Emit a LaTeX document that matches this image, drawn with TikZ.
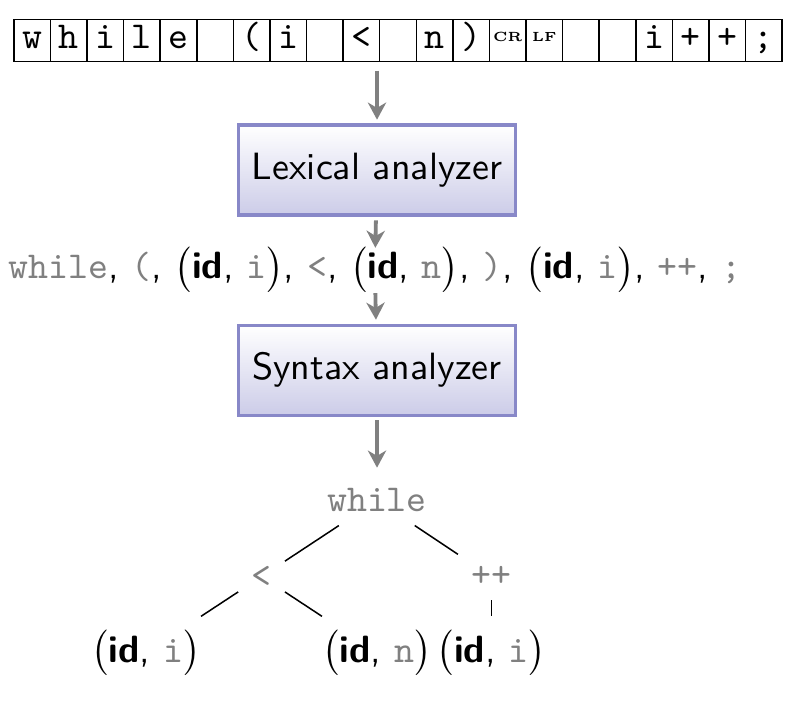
\documentclass[tikz,border=0pt]{standalone}
\usepackage{fontspec}
\usetikzlibrary{arrows.meta}

\definecolor{phaseline}{RGB}{136,136,200}
\definecolor{phasefill}{RGB}{204,204,232}
\newcommand\code[1]{\textcolor{black!50}{\texttt{#1}}}
\newcommand\tok[1]{$\bigl($\textbf{id}, \code{#1}$\bigr)$}
\newcommand\ctl[1]{\raisebox{1.8pt}{\fontsize{3.5}{4}\selectfont\rmfamily\bfseries #1}}

\begin{document}
\begin{tikzpicture}[
  >={Stealth[length=4.5pt,width=4.8pt,inset=1.4pt]},
  font=\sffamily,
  cell/.style={draw,minimum width=0.3383cm,minimum height=0.3885cm,inner sep=0pt,text height=6pt,text depth=2pt,font=\ttfamily},
  phase/.style={draw=phaseline,line width=0.8pt,top color=white,bottom color=phasefill,minimum width=2.567cm,minimum height=0.8325cm},
  flow/.style={->,draw=black!50,line width=1pt,shorten <=1pt,shorten >=1pt},
]
  \useasboundingbox (-3.487,1.5725) rectangle (3.829,-4.912);
  % input characters
  \foreach \ch [count=\k] in {w,h,i,l,e,{},{(},i,{},<,{},n,{)},\ctl{CR},\ctl{LF},{},{},i,+,+,;}
    \node[cell] (c\k) at ({-3.358+(\k-0.5)*0.3383},1.198) {\ch};

  \node[phase] (lex) at (0,0) {Lexical analyzer};
  \node[inner ysep=0pt] (tokens) at (-0.02,-0.92) {\code{while}, \code{(}, \tok{i}, \code{<}, \tok{n}, \code{)}, \tok{i}, \code{++}, \code{;}};
  \node[phase] (syn) at (0,-1.85) {Syntax analyzer};

  % syntax tree
  \node (root) at (0,-3.056) {\code{while}};
  \node (lt) at (-1.068,-3.76) {\code{<}};
  \node (inc) at (1.057,-3.76) {\code{++}};
  \node (lhs) at (-2.137,-4.463) {\tok{i}};
  \node (rhs) at (0,-4.463) {\tok{n}};
  \node (arg) at (1.057,-4.463) {\tok{i}};

  \draw[flow,shorten <=2.2pt] (c10.south -| lex.north) -- (lex);
  \draw[flow,shorten >=-0.5pt] (lex) -- (tokens);
  \draw[flow,shorten <=0pt] (tokens) -- (syn);
  \draw[flow,shorten >=2pt] (syn) -- (root);
  \foreach \a/\b in {root/lt,root/inc,lt/lhs,lt/rhs,inc/arg}
    \draw (\a) -- (\b);
\end{tikzpicture}
\end{document}
